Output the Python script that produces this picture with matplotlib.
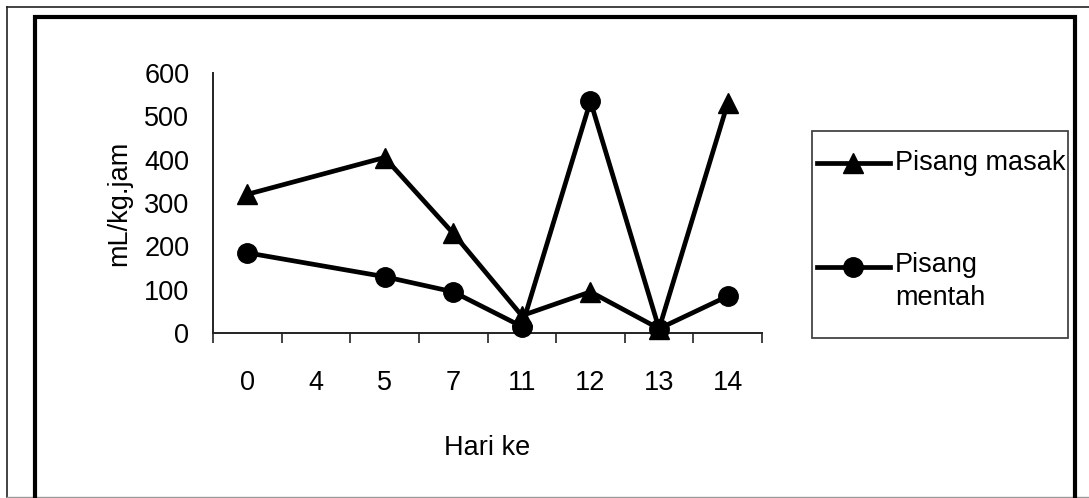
import matplotlib
matplotlib.use("Agg")
import matplotlib.pyplot as plt
from matplotlib.lines import Line2D
from matplotlib.patches import Rectangle
from matplotlib.ticker import FixedLocator

# ---- data ----
categories = ["0", "4", "5", "7", "11", "12", "13", "14"]
hari_with_data = ["0", "5", "7", "11", "12", "13", "14"]
pisang_masak = [320, 405, 230, 40, 95, 10, 530]
pisang_mentah = [185, 130, 95, 15, 535, 10, 85]
yticks = [0, 100, 200, 300, 400, 500, 600]
series_labels = ["Pisang masak", "Pisang\nmentah"]

plt.rcParams['font.family'] = ['Liberation Sans', 'DejaVu Sans']
FS = 19.5

W, H = 1089, 498
fig = plt.figure(figsize=(W / 100, H / 100), dpi=100)
fig.patch.set_facecolor("white")


def fx(x):
    return x / W


def fy(y):
    return 1 - y / H


ax = fig.add_axes([fx(213), fy(333), (762 - 213) / W, (333 - 73) / H])
xpos = [categories.index(h) for h in hari_with_data]
ax.plot(xpos, pisang_masak, color="black", lw=3.4, marker="^", ms=15,
        clip_on=False, zorder=3)
ax.plot(xpos, pisang_mentah, color="black", lw=3.4, marker="o", ms=14,
        clip_on=False, zorder=3)

ax.set_xlim(-0.5, len(categories) - 0.5)
ax.set_ylim(0, 600)
ax.set_xticks(range(len(categories)))
ax.set_xticklabels(categories, fontsize=FS)
ax.xaxis.set_minor_locator(FixedLocator([i - 0.5 for i in range(len(categories) + 1)]))
ax.tick_params(axis="x", which="major", length=0, pad=27)
ax.tick_params(axis="x", which="minor", length=7, width=1.2, direction="out", color="#222")
ax.set_yticks(yticks)
ax.set_yticklabels([str(v) for v in yticks], fontsize=FS)
ax.yaxis.set_minor_locator(FixedLocator([0, 600]))
ax.tick_params(axis="y", which="major", length=0, pad=17)
ax.tick_params(axis="y", which="minor", length=6, width=1.2, direction="out", color="#222")
for s in ["top", "right"]:
    ax.spines[s].set_visible(False)
for s in ["left", "bottom"]:
    ax.spines[s].set_linewidth(1.4)
    ax.spines[s].set_color("#222")

ax.set_ylabel("mL/kg.jam", fontsize=FS)
ax.yaxis.set_label_coords((132 - 213) / 549, 0.5)
ax.set_xlabel("Hari ke", fontsize=FS)
ax.xaxis.set_label_coords((487 - 213) / 549, (333 - 435) / 260)

# ---- legend (manual box) ----
fig.add_artist(Rectangle((fx(812), fy(338)), (1068 - 812) / W, (338 - 131) / H,
                         transform=fig.transFigure, fill=False,
                         edgecolor="#444", lw=1.3))
fig.add_artist(Line2D([fx(817), fx(890)], [fy(163), fy(163)], color="black", lw=3.4,
                      transform=fig.transFigure))
fig.add_artist(Line2D([fx(853)], [fy(163)], color="black", marker="^", ms=15,
                      transform=fig.transFigure))
fig.text(fx(895), fy(163), series_labels[0], fontsize=FS, va="center", ha="left")
fig.add_artist(Line2D([fx(817), fx(890)], [fy(267), fy(267)], color="black", lw=3.4,
                      transform=fig.transFigure))
fig.add_artist(Line2D([fx(853)], [fy(267)], color="black", marker="o", ms=14,
                      transform=fig.transFigure))
fig.text(fx(895), fy(252), series_labels[1], fontsize=FS, va="top", ha="left",
         linespacing=1.35)

# ---- frames ----
fig.add_artist(Line2D([fx(7), fx(7)], [fy(7), fy(497)], color="#222", lw=1.2,
                      transform=fig.transFigure))
fig.add_artist(Line2D([fx(7), fx(1089)], [fy(7), fy(7)], color="#222", lw=1.2,
                      transform=fig.transFigure))
fig.add_artist(Line2D([fx(7), fx(1089)], [fy(497), fy(497)], color="#999", lw=1.0,
                      transform=fig.transFigure))
fig.add_artist(Line2D([fx(35), fx(35), fx(1075), fx(1075)],
                      [fy(498), fy(17), fy(17), fy(498)], color="black", lw=3.0,
                      solid_joinstyle="miter", transform=fig.transFigure))

fig.savefig("out.png", dpi=100)
